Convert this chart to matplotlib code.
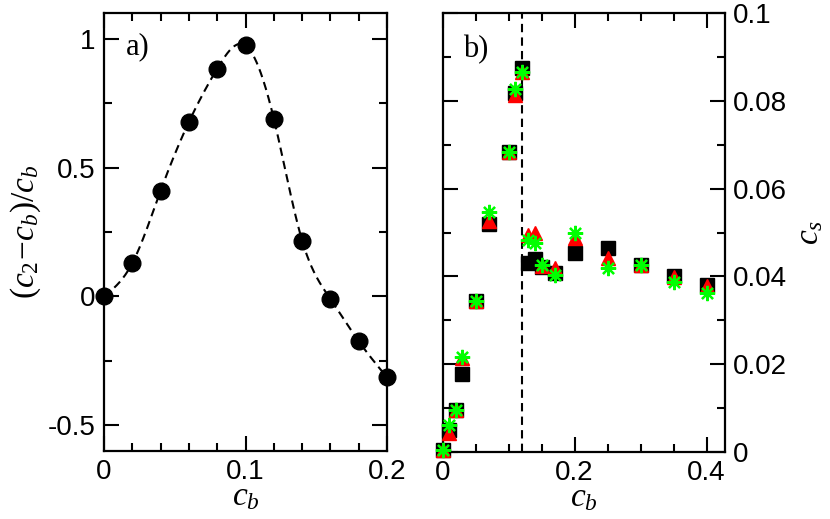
import numpy as np
import matplotlib
matplotlib.use("Agg")
import matplotlib.pyplot as plt
from matplotlib.ticker import MultipleLocator

plt.rcParams['font.family'] = ['Liberation Sans', 'DejaVu Sans']
plt.rcParams['mathtext.fontset'] = 'custom'
plt.rcParams['mathtext.rm'] = 'Liberation Serif'
plt.rcParams['mathtext.it'] = 'Liberation Serif:italic'
plt.rcParams['axes.unicode_minus'] = False

# ---- data panel a ----
cb_a = [0.0, 0.02, 0.04, 0.06, 0.08, 0.10, 0.12, 0.14, 0.16, 0.18, 0.20]
ratio_a = [0.0, 0.129, 0.41, 0.677, 0.884, 0.974, 0.69, 0.217, -0.01, -0.174, -0.314]

# ---- data panel b ----
cb_b = [0.0, 0.01, 0.02, 0.03, 0.05, 0.07, 0.10, 0.11, 0.12, 0.13, 0.14, 0.15,
        0.17, 0.20, 0.25, 0.30, 0.35, 0.40]
cs_square = [0.0003, 0.0050, 0.0095, 0.0177, 0.0344, 0.0520, 0.0683, 0.0818, 0.0875,
             0.0431, 0.0439, 0.0422, 0.0407, 0.0453, 0.0464, 0.0426, 0.0401, 0.0380]
cs_triangle = [0.0003, 0.0042, 0.0095, 0.0213, 0.0344, 0.0527, 0.0683, 0.0814, 0.0867,
               0.0495, 0.0498, 0.0424, 0.0419, 0.0487, 0.0441, 0.0427, 0.0398, 0.0379]
cs_star = [0.0003, 0.0062, 0.0095, 0.0215, 0.0344, 0.0546, 0.0683, 0.0827, 0.0865,
           0.0483, 0.0476, 0.0426, 0.0402, 0.0499, 0.0419, 0.0426, 0.0388, 0.0363]
cb_critical = 0.12


def natural_spline(x, y, n=400):
    x = np.asarray(x, float); y = np.asarray(y, float)
    k = len(x)
    h = np.diff(x)
    A = np.zeros((k, k)); r = np.zeros(k)
    A[0, 0] = 1; A[-1, -1] = 1
    for i in range(1, k - 1):
        A[i, i - 1] = h[i - 1]
        A[i, i] = 2 * (h[i - 1] + h[i])
        A[i, i + 1] = h[i]
        r[i] = 3 * ((y[i + 1] - y[i]) / h[i] - (y[i] - y[i - 1]) / h[i - 1])
    c = np.linalg.solve(A, r)
    b = (y[1:] - y[:-1]) / h - h * (2 * c[:-1] + c[1:]) / 3
    d = (c[1:] - c[:-1]) / (3 * h)
    xs = np.linspace(x[0], x[-1], n)
    idx = np.clip(np.searchsorted(x, xs) - 1, 0, k - 2)
    dx = xs - x[idx]
    ys = y[idx] + b[idx] * dx + c[idx] * dx ** 2 + d[idx] * dx ** 3
    return xs, ys


fig = plt.figure(figsize=(8.3, 5.19), dpi=100)
axa = fig.add_axes([104 / 830, 68 / 519, 283 / 830, 438 / 519])
axb = fig.add_axes([442.7 / 830, 67.3 / 519, 282.3 / 830, 438.4 / 519])

tick_fs = 20
label_fs = 24
dash = (0, (4, 2.5))
for ax in (axa, axb):
    for s in ax.spines.values():
        s.set_linewidth(1.6)
    ax.tick_params(which='both', direction='in', top=True, right=True, width=1.5,
                   labelsize=tick_fs)
    ax.tick_params(axis='x', which='both', pad=6)
    ax.tick_params(which='major', length=11)
    ax.tick_params(which='minor', length=6)

# panel a
xs, ys = natural_spline(cb_a, ratio_a)
axa.plot(xs, ys, color='black', lw=1.5, linestyle=dash)
axa.plot(cb_a, ratio_a, 'o', color='black', markersize=12, zorder=3, clip_on=False)
axa.set_xlim(0, 0.2)
axa.set_ylim(-0.6, 1.1)
axa.xaxis.set_minor_locator(MultipleLocator(0.02))
axa.yaxis.set_minor_locator(MultipleLocator(0.25))
axa.set_xticks([0, 0.1, 0.2])
axa.set_xticklabels(['0', '0.1', '0.2'])
axa.set_yticks([-0.5, 0, 0.5, 1])
axa.set_yticklabels(['-0.5', '0', '0.5', '1'])
axa.tick_params(axis='y', which='both', pad=6)
axa.set_xlabel(r'$c_b$', fontsize=label_fs)
axa.xaxis.label.set_va('baseline')
axa.xaxis.set_label_coords(0.5, -0.124)
axa.set_ylabel(r'$(c_2\!-\!c_b)/c_b$', fontsize=label_fs)
axa.yaxis.set_label_coords(-0.215, 0.5)
axa.text(0.078, 0.955, 'a)', transform=axa.transAxes, fontsize=22,
         family='Liberation Serif', ha='left', va='top')

# panel b
axb.axvline(cb_critical, color='black', lw=1.5, linestyle=dash)
axb.plot(cb_b, cs_square, 's', color='black', markersize=9.5, linestyle='none',
         zorder=3, clip_on=False)
axb.plot(cb_b, cs_triangle, '^', color='#ff0000', markersize=10, linestyle='none',
         zorder=4, clip_on=False)
axb.plot(cb_b, cs_star, marker=(8, 2, 0), color='#00ff00', markeredgecolor='#00ff00',
         markersize=11, markeredgewidth=1.6, linestyle='none', zorder=5, clip_on=False)
axb.set_xlim(0, 0.428)
axb.set_ylim(0, 0.1)
axb.xaxis.set_minor_locator(MultipleLocator(0.05))
axb.yaxis.set_minor_locator(MultipleLocator(0.01))
axb.set_xticks([0, 0.2, 0.4])
axb.set_xticklabels(['0', '0.2', '0.4'])
axb.set_yticks([0, 0.02, 0.04, 0.06, 0.08, 0.1])
axb.set_yticklabels(['0', '0.02', '0.04', '0.06', '0.08', '0.1'])
axb.tick_params(axis='y', which='both', labelleft=False, labelright=True, pad=6)
axb.yaxis.set_label_position('right')
axb.set_xlabel(r'$c_b$', fontsize=label_fs)
axb.xaxis.label.set_va('baseline')
axb.xaxis.set_label_coords(0.5, -0.124)
axb.set_ylabel(r'$c_s$', fontsize=label_fs, rotation=90)
axb.yaxis.set_label_coords(1.245, 0.5)
axb.text(0.072, 0.95, 'b)', transform=axb.transAxes, fontsize=22,
         family='Liberation Serif', ha='left', va='top')

fig.savefig('out.png', dpi=100)
